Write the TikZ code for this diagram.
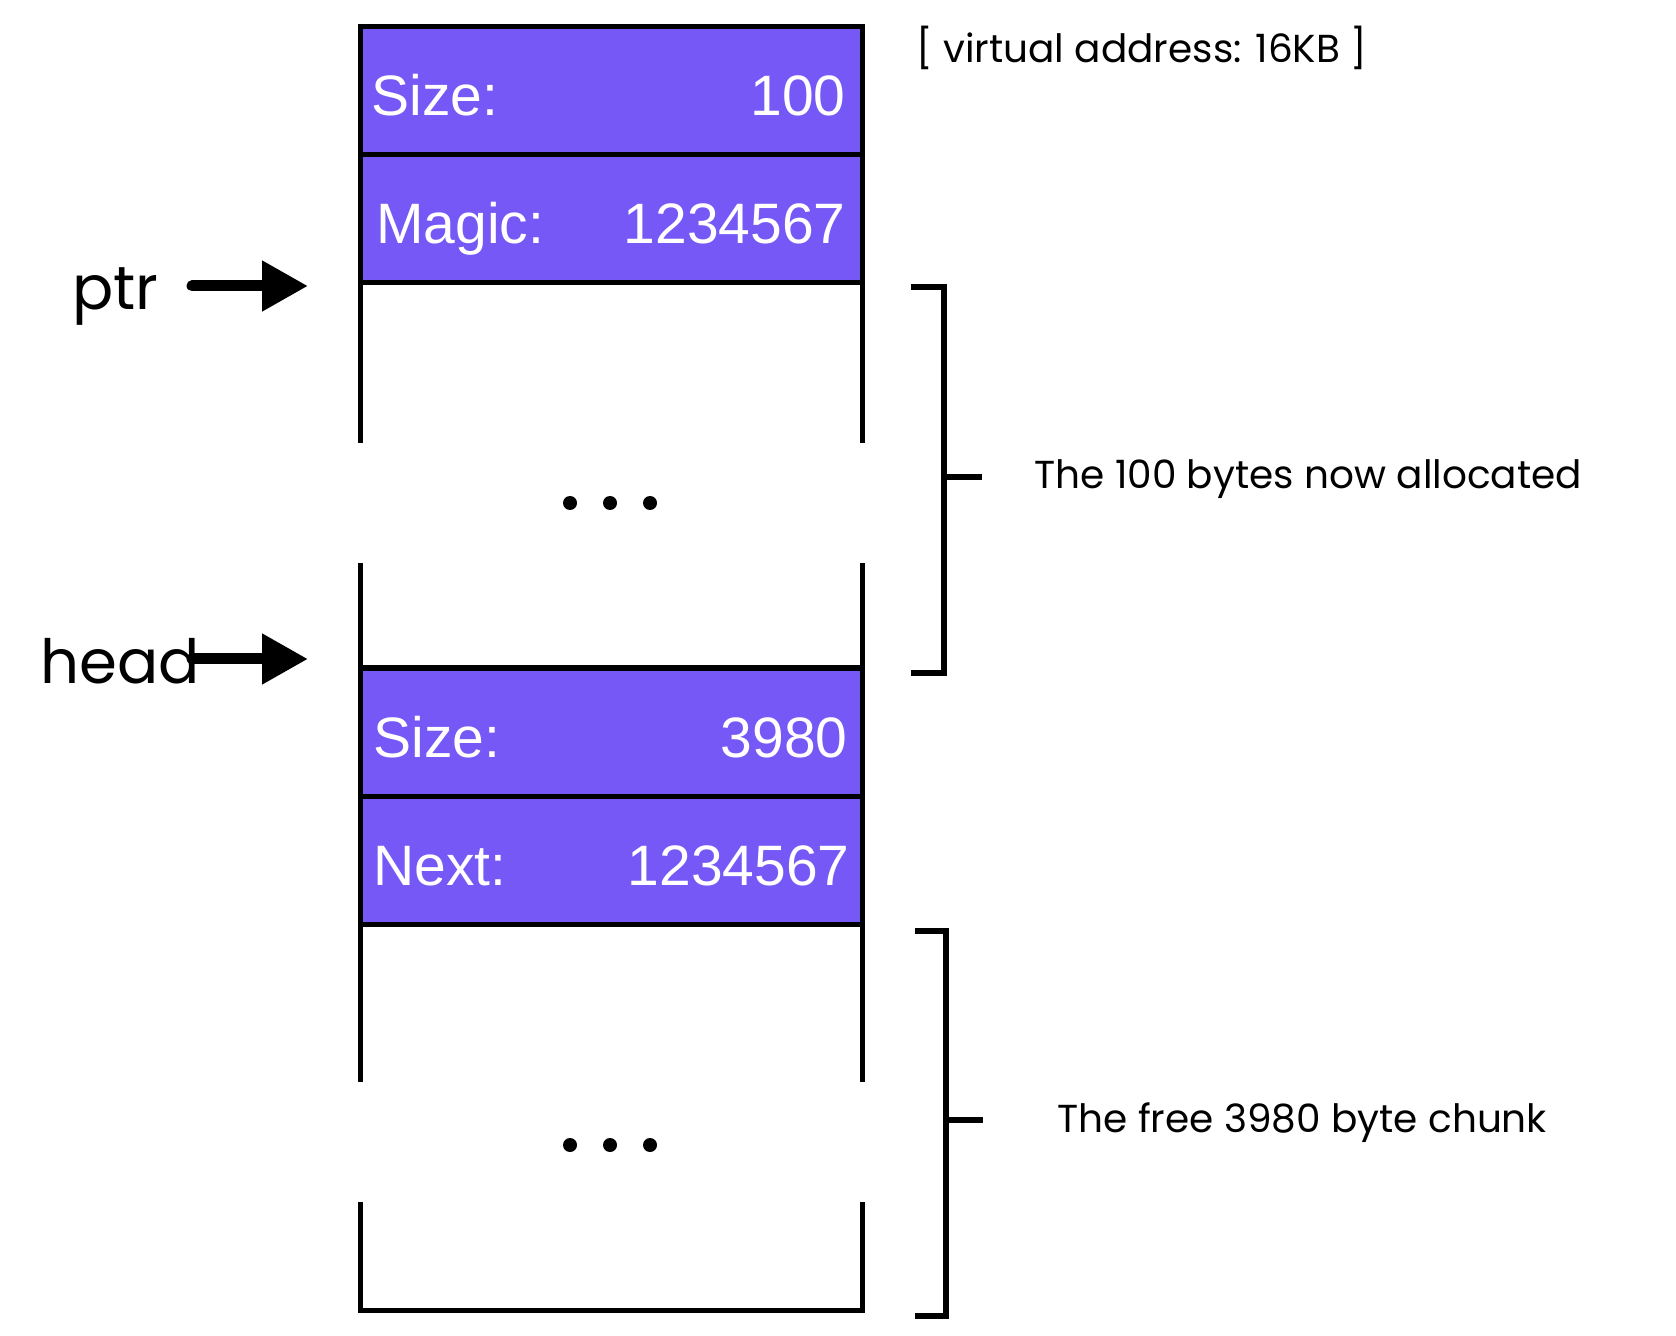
\documentclass[tikz,border=0pt]{standalone}
\usepackage{fontspec}
\setmainfont{Liberation Sans}
\newfontfamily\labelfont{Poppins}
\usetikzlibrary{arrows.meta, positioning}
\definecolor{heapviolet}{RGB}{117, 88, 246}

\begin{document}
\begin{tikzpicture}[x=0.5pt, y=-0.5pt]
\tikzstyle{field} = [rectangle, draw=black, line width=2.5pt, fill=heapviolet, minimum width=251pt, minimum height=64pt, inner sep=0pt, outer sep=0pt]
\tikzstyle{fieldtext} = [text=white, font=\fontsize{28.5}{32}\selectfont, inner sep=0pt]
\tikzstyle{side} = [font=\labelfont\fontsize{19.5}{23}\selectfont, inner sep=0pt, anchor=base west]
\tikzstyle{pointer} = [font=\labelfont\fontsize{30.5}{36}\selectfont, inner sep=0pt, anchor=base west]
\tikzstyle{arrow} = [line width=5.5pt, line cap=round, -{Triangle[length=23pt, width=24pt]}]
\tikzstyle{wall} = [line width=2.5pt]
\tikzstyle{brace} = [line width=3pt]
\tikzstyle{dot} = [circle, fill=black, minimum size=7pt, inner sep=0pt]

\useasboundingbox (0,0) rectangle (1676,1336);

% allocated chunk: header
\node (size1) [field, anchor=north west] at (360,27) {};
\node (magic) [field, below=0pt of size1] {};
\node (sizekey1) [fieldtext, anchor=base west, xshift=5.5pt, yshift=-12.5pt] at (size1.west) {Size:};
\node (sizeval1) [fieldtext, anchor=base east, xshift=-8pt, yshift=-12.5pt] at (size1.east) {100};
\node (magickey) [fieldtext, anchor=base west, xshift=8pt, yshift=-12.5pt] at (magic.west) {Magic:};
\node (magicval) [fieldtext, anchor=base east, xshift=-8pt, yshift=-12.5pt] at (magic.east) {1234567};

% free chunk: header
\node (size2) [field, anchor=north west] at (360,668) {};
\node (next) [field, below=0pt of size2] {};
\node (sizekey2) [fieldtext, anchor=base west, xshift=6.5pt, yshift=-12.5pt] at (size2.west) {Size:};
\node (sizeval2) [fieldtext, anchor=base east, xshift=-7pt, yshift=-12.5pt] at (size2.east) {3980};
\node (nextkey) [fieldtext, anchor=base west, xshift=6.5pt, yshift=-12.5pt] at (next.west) {Next:};
\node (nextval) [fieldtext, anchor=base east, xshift=-6pt, yshift=-12.5pt] at (next.east) {1234567};

% open walls
\draw [wall] (magic.south west) -- ++(0,160);
\draw [wall] (magic.south east) -- ++(0,160);
\draw [wall] (size2.north west) -- ++(0,-105);
\draw [wall] (size2.north east) -- ++(0,-105);
\draw [wall] (next.south west) -- ++(0,158);
\draw [wall] (next.south east) -- ++(0,158);
\draw [wall] (next.south west) ++(0,278) -- ++(0,108) -- ++(502,0) -- ++(0,-108);

% dots
\foreach \i/\x in {1/570, 2/610, 3/650} {
  \node (updot\i) [dot] at (\x,503) {};
  \node (lowdot\i) [dot] at (\x,1145) {};
}

% brackets
\draw [brace] (911,287) -- (944,287) -- (944,673) -- (911,673);
\draw [brace] (944,477) -- (982,477);
\draw [brace] (915,931) -- (946,931) -- (946,1316) -- (915,1316);
\draw [brace] (946,1120) -- (983,1120);

% labels
\node (vaddr) [side] at (916,63) {[ virtual address: 16KB ]};
\node (alloc) [side] at (1034,489) {The 100 bytes now allocated};
\node (free) [side] at (1057,1132) {The free 3980 byte chunk};

% pointers
\node (ptr) [pointer] at (72,310) {ptr};
\node (head) [pointer] at (40,683) {head};
\coordinate (ptrtail) at (192,286);
\coordinate (ptrtip) at (308,286);
\coordinate (headtail) at (192,659);
\coordinate (headtip) at (308,659);
\draw [arrow] (ptrtail) -- (ptrtip);
\draw [arrow] (headtail) -- (headtip);
\end{tikzpicture}
\end{document}
